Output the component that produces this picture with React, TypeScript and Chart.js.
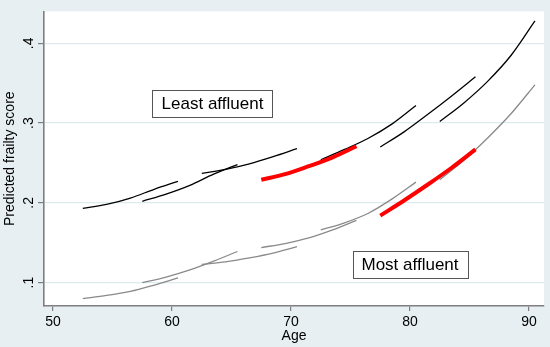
import React, { useEffect, useRef } from "react";
import { Chart, registerables } from "chart.js";

Chart.register(...registerables);

// ---- Data ----
const windowAges: number[][] = [
  [52.5, 54.5, 56.5, 58.5, 60.5],
  [57.5, 59.5, 61.5, 63.5, 65.5],
  [62.5, 64.5, 66.5, 68.5, 70.5],
  [67.5, 69.5, 71.5, 73.5, 75.5],
  [72.5, 74.5, 76.5, 78.5, 80.5],
  [77.5, 79.5, 81.5, 83.5, 85.5],
  [82.5, 84.5, 86.5, 88.5, 90.5],
];

// Least affluent (black) predicted frailty per age window
const leastAffluent: number[][] = [
  [0.193, 0.198, 0.206, 0.217, 0.227],
  [0.202, 0.211, 0.222, 0.236, 0.248],
  [0.237, 0.242, 0.249, 0.258, 0.268],
  [0.229, 0.236, 0.246, 0.257, 0.271],
  [0.254, 0.267, 0.281, 0.299, 0.322],
  [0.27, 0.289, 0.311, 0.334, 0.358],
  [0.302, 0.325, 0.352, 0.385, 0.428],
];

// Most affluent (grey) predicted frailty per age window
const mostAffluent: number[][] = [
  [0.08, 0.084, 0.089, 0.097, 0.106],
  [0.1, 0.107, 0.116, 0.127, 0.139],
  [0.123, 0.126, 0.131, 0.137, 0.145],
  [0.144, 0.149, 0.156, 0.166, 0.178],
  [0.166, 0.175, 0.187, 0.205, 0.226],
  [0.184, 0.203, 0.223, 0.244, 0.267],
  [0.229, 0.253, 0.281, 0.312, 0.348],
];

// Windows highlighted in red (index into the window arrays)
const leastHighlighted = [3];
const mostHighlighted = [5];

const xTicks = [50, 60, 70, 80, 90];
const yTicks = [0.1, 0.2, 0.3, 0.4];
const yTickLabels = [".1", ".2", ".3", ".4"];

const boxTexts = ["Least affluent", "Most affluent"];
const boxAges = [63.4, 80.0];
const boxValues = [0.325, 0.1225];

const FONT = "'Liberation Sans', Arial, sans-serif";
const OUTER_BG = "#e7eff2";
const GRID = "#dfeaee";
const AXIS = "#7f7f7f";

export default function App() {
  const canvasRef = useRef<HTMLCanvasElement | null>(null);

  useEffect(() => {
    document.body.style.margin = "0";
    const canvas = canvasRef.current;
    if (!canvas) return;

    const datasets: any[] = [];
    const addSeries = (
      values: number[][],
      highlighted: number[],
      color: string,
      width: number
    ) => {
      values.forEach((vals, i) => {
        const hl = highlighted.includes(i);
        datasets.push({
          data: vals.map((v, j) => ({ x: windowAges[i][j], y: v })),
          borderColor: hl ? "#ff0000" : color,
          borderWidth: hl ? 4 : width,
          showLine: true,
          pointRadius: 0,
          cubicInterpolationMode: "monotone",
          fill: false,
          order: hl ? 0 : 1,
        });
      });
    };
    addSeries(leastAffluent, leastHighlighted, "#000000", 1.3);
    addSeries(mostAffluent, mostHighlighted, "#8a8a8a", 1.3);

    const bgPlugin = {
      id: "bg",
      beforeDraw(chart: any) {
        const { ctx, chartArea } = chart;
        ctx.save();
        ctx.fillStyle = OUTER_BG;
        ctx.fillRect(0, 0, chart.width, chart.height);
        ctx.fillStyle = "#ffffff";
        ctx.fillRect(
          chartArea.left,
          chartArea.top,
          chartArea.right - chartArea.left,
          chartArea.bottom - chartArea.top
        );
        ctx.restore();
      },
    };

    const boxPlugin = {
      id: "boxes",
      afterDatasetsDraw(chart: any) {
        const { ctx } = chart;
        const xs = chart.scales.x;
        const ys = chart.scales.y;
        ctx.save();
        ctx.font = `17px ${FONT}`;
        boxTexts.forEach((t, i) => {
          const cx = xs.getPixelForValue(boxAges[i]);
          const cy = ys.getPixelForValue(boxValues[i]);
          const tw = ctx.measureText(t).width;
          const w = Math.round(tw + 18);
          const h = 27;
          const x0 = Math.round(cx - w / 2) + 0.5;
          const y0 = Math.round(cy - h / 2) + 0.5;
          ctx.fillStyle = "#ffffff";
          ctx.fillRect(x0, y0, w, h);
          ctx.strokeStyle = "#555555";
          ctx.lineWidth = 1;
          ctx.strokeRect(x0, y0, w, h);
          ctx.fillStyle = "#000000";
          ctx.textAlign = "center";
          ctx.textBaseline = "middle";
          ctx.fillText(t, cx, cy + 1);
        });
        ctx.restore();
      },
    };

    const chart = new Chart(canvas, {
      type: "scatter",
      data: { datasets },
      plugins: [bgPlugin, boxPlugin],
      options: {
        animation: false,
        responsive: false,
        maintainAspectRatio: false,
        layout: { padding: { top: 4, right: 6, left: 0, bottom: 0 } },
        plugins: {
          legend: { display: false },
          tooltip: { enabled: false },
        },
        scales: {
          x: {
            type: "linear",
            min: 49.24,
            max: 91.26,
            afterBuildTicks: (scale: any) => {
              scale.ticks = xTicks.map((v) => ({ value: v }));
            },
            afterFit: (scale: any) => {
              scale.height = 41;
            },
            grid: {
              drawOnChartArea: false,
              color: AXIS,
              tickColor: AXIS,
              tickLength: 5,
              lineWidth: 1.2,
            },
            border: { color: AXIS, width: 1.6 },
            ticks: {
              color: "#000",
              font: { family: FONT, size: 14 },
              padding: 3,
              maxRotation: 0,
              autoSkip: false,
              callback: (v: any) => String(v),
            },
            title: {
              display: true,
              text: "Age",
              color: "#000",
              font: { family: FONT, size: 14 },
              padding: { top: 0, bottom: 2 },
            },
          },
          y: {
            type: "linear",
            min: 0.0707,
            max: 0.44,
            afterBuildTicks: (scale: any) => {
              scale.ticks = yTicks.map((v) => ({ value: v }));
            },
            afterFit: (scale: any) => {
              scale.width = 44;
            },
            grid: {
              color: GRID,
              tickColor: AXIS,
              tickLength: 6,
              lineWidth: 1.2,
            },
            border: { color: AXIS, width: 1.6 },
            ticks: {
              color: "#000",
              font: { family: FONT, size: 14 },
              padding: 3,
              minRotation: 90,
              maxRotation: 90,
              crossAlign: "center",
              autoSkip: false,
              callback: (v: any) => {
                const idx = yTicks.findIndex((t) => Math.abs(t - v) < 1e-9);
                return idx >= 0 ? yTickLabels[idx] : "";
              },
            },
            title: {
              display: true,
              text: "Predicted frailty score",
              color: "#000",
              font: { family: FONT, size: 14 },
              padding: { top: 2, bottom: 0 },
            },
          },
        },
      } as any,
    });

    return () => chart.destroy();
  }, []);

  return (
    <div style={{ width: 550, height: 347 }}>
      <canvas
        ref={canvasRef}
        width={550}
        height={347}
        style={{ display: "block", width: 550, height: 347 }}
      />
    </div>
  );
}
